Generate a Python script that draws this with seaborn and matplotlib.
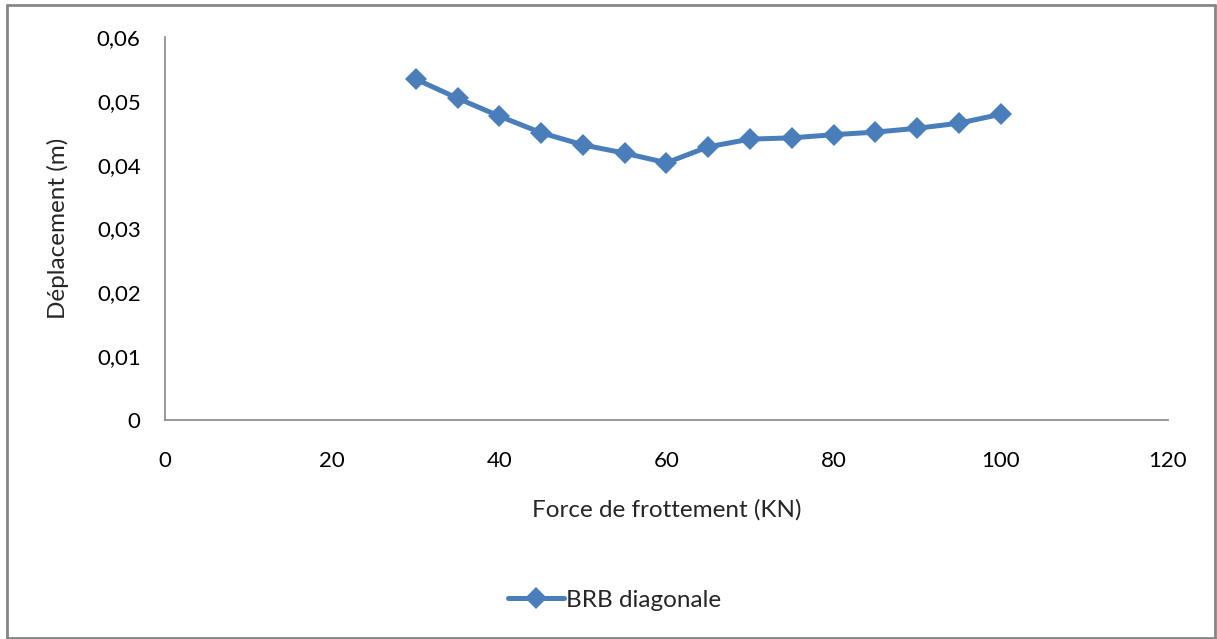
import matplotlib
matplotlib.use("Agg")
import matplotlib.pyplot as plt
from matplotlib.lines import Line2D
from matplotlib.ticker import FuncFormatter
import pandas as pd
import seaborn as sns

# data
force = [30, 35, 40, 45, 50, 55, 60, 65, 70, 75, 80, 85, 90, 95, 100]
deplacement = [0.0534, 0.0504, 0.0476, 0.0450, 0.0431, 0.0418, 0.0403,
               0.0428, 0.0440, 0.0442, 0.0447, 0.0451, 0.0457, 0.0465, 0.0479]
serie = "BRB diagonale"

df = pd.DataFrame({"force": force, "deplacement": deplacement})

sns.set_style("white")
plt.rcParams['font.family'] = ['Lato', 'DejaVu Sans']

fig = plt.figure(figsize=(12.17, 6.39), dpi=100)
ax = fig.add_axes([0.1356, 0.3427, 0.8241, 0.5994])

sns.lineplot(data=df, x="force", y="deplacement", ax=ax, color="#4A7EBB",
             linewidth=3.6, marker="D", markersize=11.5, markeredgewidth=0,
             label=serie, legend=False)

ax.set_xlim(0, 120)
ax.set_ylim(0, 0.06)
ax.set_xticks(range(0, 121, 20))
ax.set_yticks([0, 0.01, 0.02, 0.03, 0.04, 0.05, 0.06])
ax.yaxis.set_major_formatter(FuncFormatter(
    lambda v, p: "0" if v == 0 else f"{v:.2f}".replace(".", ",")))

for s in ["top", "right"]:
    ax.spines[s].set_visible(False)
for s in ["left", "bottom"]:
    ax.spines[s].set_color("#868686")
    ax.spines[s].set_linewidth(1.2)
ax.tick_params(axis="both", direction="out", length=5.5, width=1.2,
               color="#868686", labelsize=16, labelcolor="black")
ax.tick_params(axis="x", pad=17)
ax.tick_params(axis="y", pad=12)

ax.set_xlabel("Force de frottement (KN)", fontsize=17.5, labelpad=20)
ax.set_ylabel("Déplacement (m)", fontsize=17.5, labelpad=20)

handles, labels = ax.get_legend_handles_labels()
fig.legend(handles, labels, loc="center", bbox_to_anchor=(0.505, 0.061),
           frameon=False, fontsize=17.5, handlelength=2.3, handletextpad=0.1)

# grey outer frame of the chart area
border = dict(color="#868686", linewidth=2, transform=fig.transFigure)
fig.add_artist(Line2D([0.006, 0.006], [0.0, 0.992], **border))
fig.add_artist(Line2D([0.006, 0.9985], [0.992, 0.992], **border))
fig.add_artist(Line2D([0.9985, 0.9985], [0.0, 0.992], **border))
fig.add_artist(Line2D([0.006, 0.9985], [0.002, 0.002], **border))

fig.savefig("out.png", dpi=100)
